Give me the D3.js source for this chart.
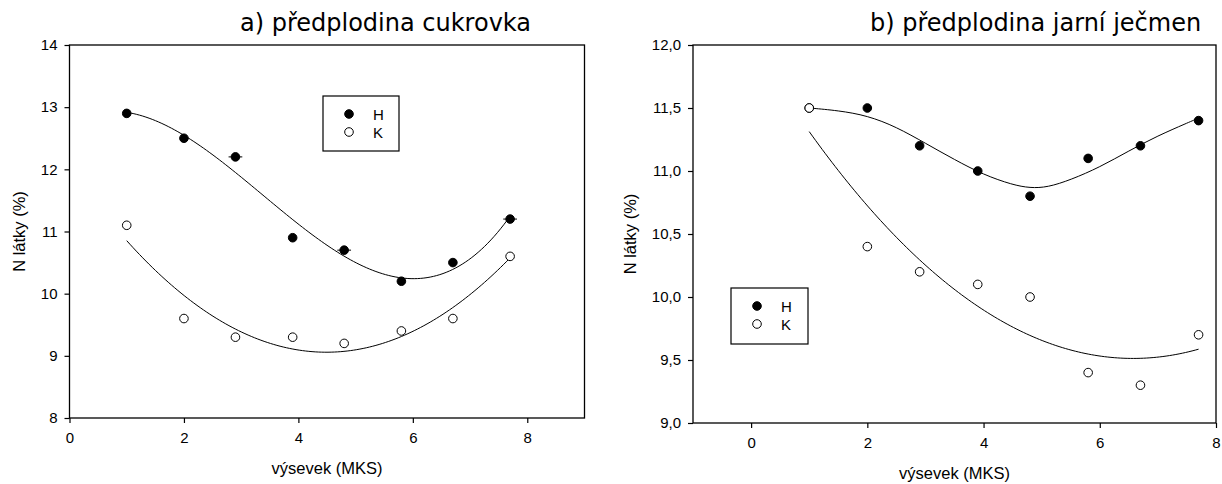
<!DOCTYPE html>
<html>
<head>
<meta charset="utf-8">
<script src="https://cdn.jsdelivr.net/npm/d3@7"></script>
<style>
  html, body { margin: 0; padding: 0; background: #fff; }
  svg { display: block; }
</style>
</head>
<body>
<svg id="chart" width="1222" height="484"></svg>
<script>
// ---------- data ----------
const xValues = [1, 2, 2.9, 3.9, 4.8, 5.8, 6.7, 7.7];

// chart a) předplodina cukrovka
const aH = [12.9, 12.5, 12.2, 10.9, 10.7, 10.2, 10.5, 11.2];
const aK = [11.1, 9.6, 9.3, 9.3, 9.2, 9.4, 9.6, 10.6];
const aHxErr = [0, 0, 0.12, 0, 0.12, 0, 0, 0.12];
const aYTicks = [8, 9, 10, 11, 12, 13, 14];
const aYLabels = ["8", "9", "10", "11", "12", "13", "14"];
const aXTicks = [0, 2, 4, 6, 8];

// chart b) předplodina jarní ječmen
const bH = [11.5, 11.5, 11.2, 11.0, 10.8, 11.1, 11.2, 11.4];
const bK = [11.5, 10.4, 10.2, 10.1, 10.0, 9.4, 9.3, 9.7];
// smoothed trend line of H in chart b
const bHCurveX = [1, 1.5, 2, 2.5, 3, 3.5, 4, 4.5, 4.8, 5.1, 5.5, 6, 6.5, 7, 7.5, 7.7];
const bHCurveY = [11.50, 11.48, 11.44, 11.35, 11.22, 11.09, 10.97, 10.89, 10.865, 10.87, 10.93, 11.03, 11.16, 11.28, 11.38, 11.42];
const bYTicks = [9.0, 9.5, 10.0, 10.5, 11.0, 11.5, 12.0];
const bYLabels = ["9,0", "9,5", "10,0", "10,5", "11,0", "11,5", "12,0"];
const bXTicks = [0, 2, 4, 6, 8];

const titles = ["a) předplodina cukrovka", "b) předplodina jarní ječmen"];
const yTitle = "N látky (%)";
const xTitle = "výsevek (MKS)";
const legendNames = ["H", "K"];

// ---------- helpers: least-squares polynomial regression (trend lines) ----------
function polyfit(xs, ys, deg) {
  const n = deg + 1;
  const A = Array.from({length: n}, () => new Array(n + 1).fill(0));
  for (let i = 0; i < xs.length; i++) {
    for (let r = 0; r < n; r++) {
      for (let c = 0; c < n; c++) A[r][c] += Math.pow(xs[i], r + c);
      A[r][n] += ys[i] * Math.pow(xs[i], r);
    }
  }
  for (let col = 0; col < n; col++) {
    let piv = col;
    for (let r = col + 1; r < n; r++) if (Math.abs(A[r][col]) > Math.abs(A[piv][col])) piv = r;
    [A[col], A[piv]] = [A[piv], A[col]];
    for (let r = 0; r < n; r++) {
      if (r === col) continue;
      const f = A[r][col] / A[col][col];
      for (let c = col; c <= n; c++) A[r][c] -= f * A[col][c];
    }
  }
  return A.map((row, i) => row[n] / A[i][i]);
}
function polyval(coef, x) { return coef.reduce((s, c, i) => s + c * Math.pow(x, i), 0); }

const svg = d3.select("#chart");
const FONT = '"Liberation Sans", Arial, sans-serif';

function drawPanel(cfg) {
  const g = svg.append("g");
  const x = d3.scaleLinear().domain(cfg.xDomain).range([cfg.left, cfg.right]);
  const y = d3.scaleLinear().domain(cfg.yDomain).range([cfg.bottom, cfg.top]);

  // frame
  g.append("rect")
    .attr("x", cfg.left).attr("y", cfg.top)
    .attr("width", cfg.right - cfg.left).attr("height", cfg.bottom - cfg.top)
    .attr("fill", "none").attr("stroke", "#000").attr("stroke-width", 1.3);

  // axes
  const xAxis = g.append("g").attr("transform", `translate(0,${cfg.bottom})`)
    .call(d3.axisBottom(x).tickValues(cfg.xTicks).tickSize(5).tickPadding(9).tickFormat(d3.format("d")));
  const yAxis = g.append("g").attr("transform", `translate(${cfg.left},0)`)
    .call(d3.axisLeft(y).tickValues(cfg.yTicks).tickSize(5).tickPadding(7)
      .tickFormat((d, i) => cfg.yLabels[i]));
  [xAxis, yAxis].forEach(a => {
    a.select(".domain").remove();
    a.selectAll(".tick line").attr("stroke", "#000").attr("stroke-width", 1.2);
    a.selectAll(".tick text").attr("font-size", 15).attr("fill", "#000").attr("font-family", FONT);
  });

  // trend curves
  const x0 = d3.min(xValues), x1 = d3.max(xValues);
  cfg.series.forEach(s => {
    let pts, curve;
    if (s.curveX) {
      pts = s.curveX.map((v, i) => [v, s.curveY[i]]);
      curve = d3.curveBasis;
    } else {
      const coef = polyfit(xValues, s.values, s.deg);
      pts = d3.range(0, 121).map(i => x0 + (x1 - x0) * i / 120).map(v => [v, polyval(coef, v)]);
      curve = d3.curveLinear;
    }
    const line = d3.line().x(d => x(d[0])).y(d => y(d[1])).curve(curve);
    g.append("path").datum(pts)
      .attr("d", line).attr("fill", "none").attr("stroke", "#000").attr("stroke-width", 1);
  });

  // x error bars
  if (cfg.xErr) {
    const vals = cfg.series[0].values;
    const errData = xValues.map((d, i) => ({x: d, y: vals[i], e: cfg.xErr[i]})).filter(d => d.e > 0);
    g.selectAll(null).data(errData).join("line")
      .attr("x1", d => x(d.x - d.e)).attr("x2", d => x(d.x + d.e))
      .attr("y1", d => y(d.y)).attr("y2", d => y(d.y))
      .attr("stroke", "#000").attr("stroke-width", 1);
  }

  // points
  cfg.series.forEach(s => {
    g.selectAll(null).data(xValues).join("circle")
      .attr("cx", d => x(d)).attr("cy", (d, i) => y(s.values[i])).attr("r", 4.3)
      .attr("fill", s.filled ? "#000" : "#fff").attr("stroke", "#000").attr("stroke-width", 1);
  });

  // titles
  g.append("text").attr("x", cfg.titleX).attr("y", 31)
    .attr("font-family", '"DejaVu Sans", Verdana, sans-serif').attr("font-size", 24)
    .attr("fill", "#000").text(cfg.title);
  g.append("text").attr("x", (cfg.left + cfg.right) / 2).attr("y", cfg.bottom + 56)
    .attr("text-anchor", "middle").attr("font-family", FONT).attr("font-size", 16.5)
    .attr("fill", "#000").text(xTitle);
  g.append("text")
    .attr("transform", `translate(${cfg.yTitleX},${(cfg.top + cfg.bottom) / 2}) rotate(-90)`)
    .attr("text-anchor", "middle").attr("dominant-baseline", "central")
    .attr("font-family", FONT).attr("font-size", 16.5).attr("fill", "#000").text(yTitle);

  // legend
  const L = cfg.legend;
  g.append("rect").attr("x", L.x).attr("y", L.y).attr("width", L.w).attr("height", L.h)
    .attr("fill", "#fff").attr("stroke", "#000").attr("stroke-width", 1.2);
  cfg.series.forEach((s, i) => {
    const cy = L.y + L.row0 + i * 18;
    g.append("circle").attr("cx", L.x + 26).attr("cy", cy).attr("r", 4.3)
      .attr("fill", s.filled ? "#000" : "#fff").attr("stroke", "#000").attr("stroke-width", 1);
    g.append("text").attr("x", L.x + 50).attr("y", cy).attr("dominant-baseline", "central")
      .attr("font-family", FONT).attr("font-size", 15).attr("fill", "#000").text(legendNames[i]);
  });
}

drawPanel({
  left: 69.5, right: 584.5, top: 45, bottom: 418,
  xDomain: [0, 9], yDomain: [8, 14],
  xTicks: aXTicks, yTicks: aYTicks, yLabels: aYLabels,
  series: [{values: aH, deg: 3, filled: true}, {values: aK, deg: 2, filled: false}],
  xErr: aHxErr,
  title: titles[0], titleX: 240, yTitleX: 19,
  legend: {x: 323, y: 96, w: 76, h: 55, row0: 18}
});

drawPanel({
  left: 693, right: 1216, top: 45, bottom: 423,
  xDomain: [-1, 8], yDomain: [9, 12],
  xTicks: bXTicks, yTicks: bYTicks, yLabels: bYLabels,
  series: [{values: bH, curveX: bHCurveX, curveY: bHCurveY, filled: true}, {values: bK, deg: 2, filled: false}],
  title: titles[1], titleX: 870, yTitleX: 630,
  legend: {x: 731, y: 288, w: 77, h: 56, row0: 18}
});
</script>
</body>
</html>
